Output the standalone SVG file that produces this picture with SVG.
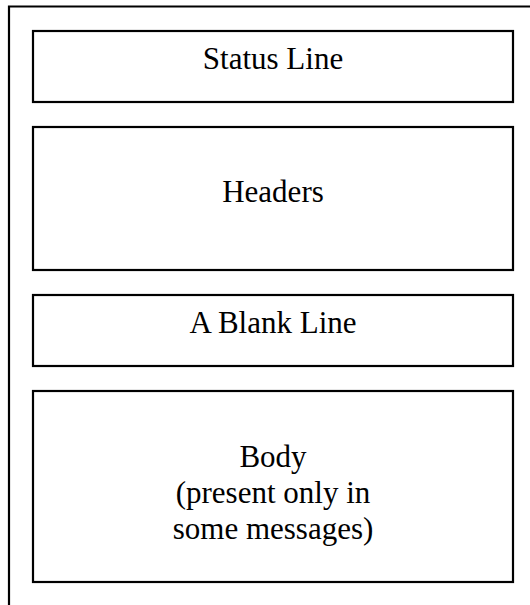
<svg xmlns="http://www.w3.org/2000/svg" width="530" height="605" viewBox="0 0 530 605">
<style>
.box{fill:#fff;stroke:#000;stroke-width:2.2}
.t{font-family:"Liberation Serif","Times New Roman",serif;font-size:31px;fill:#000;text-anchor:middle}
</style>
<rect width="530" height="605" fill="#fff"/>
<path d="M9 605 V6.5 H531" fill="none" stroke="#000" stroke-width="2.2"/>
<g id="status"><rect class="box" x="33" y="31" width="480" height="71"/><text class="t" x="273" y="69">Status Line</text></g>
<g id="headers"><rect class="box" x="33" y="127" width="480" height="143"/><text class="t" x="273" y="201.5">Headers</text></g>
<g id="blank"><rect class="box" x="33" y="295" width="480" height="71"/><text class="t" x="273" y="333">A Blank Line</text></g>
<g id="body"><rect class="box" x="33" y="391" width="480" height="191"/><text class="t" x="273" y="467">Body</text><text class="t" x="273" y="503">(present only in</text><text class="t" x="273" y="539">some messages)</text></g>
<g id="connectors"/>
</svg>
